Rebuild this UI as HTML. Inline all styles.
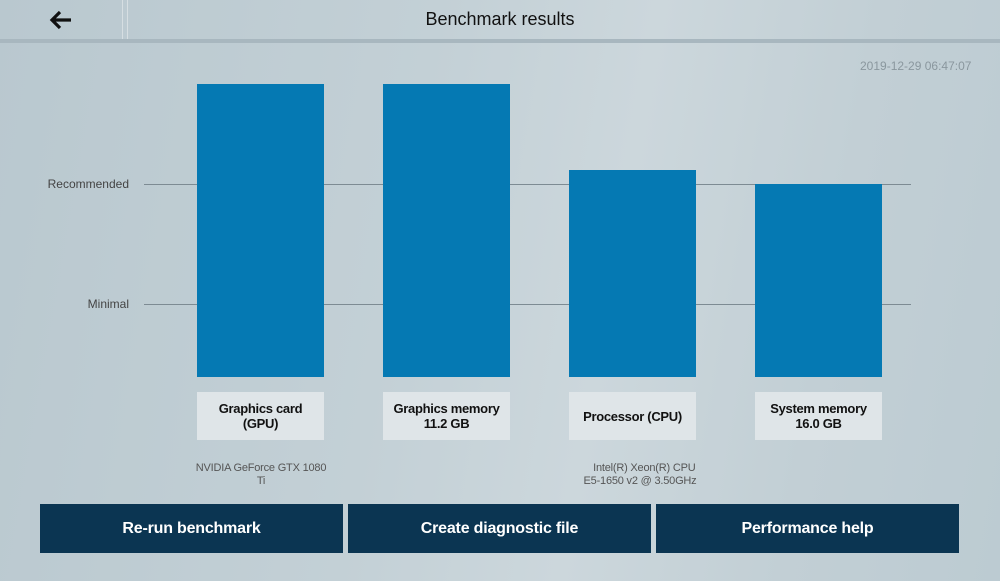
<!DOCTYPE html><html><head><style>
body{margin:0;width:1000px;height:581px;overflow:hidden;font-family:"Liberation Sans",sans-serif;background:linear-gradient(100deg,#b9c8cf 0%,#c3d0d6 40%,#ccd7dc 60%,#c2cfd5 80%,#bccbd2 100%);position:relative}
.a{position:absolute}
.bar{position:absolute;background:#0579b3;width:127px}
.line{position:absolute;left:144px;width:767px;height:1px;background:#7d8b93}
.lab{position:absolute;top:392px;width:127px;height:48px;background:#dfe5e8;display:flex;align-items:center;justify-content:center;text-align:center;font-size:13px;font-weight:bold;color:#111;line-height:15px;letter-spacing:-0.3px}
.btn{position:absolute;top:504px;height:49px;background:#0b3552;color:#fff;font-size:16px;font-weight:bold;display:flex;align-items:center;justify-content:center;letter-spacing:-0.2px}
.sm{position:absolute;font-size:11px;color:#555;text-align:center;line-height:13px;letter-spacing:-0.2px}
.yl{position:absolute;right:871px;font-size:12px;color:#444}
</style></head><body>
<div class="a" style="left:0;top:0;width:122px;height:39px;border-right:1px solid #d6dee2;"></div>
<div class="a" style="left:127px;top:0;width:873px;height:39px;border-left:1px solid #d6dee2;"></div>
<div class="a" style="left:0;top:39px;width:1000px;height:4px;background:#a8b7bf"></div>
<svg class="a" style="left:49px;top:10px" width="24" height="20" viewBox="0 0 24 20"><path d="M22 10H4M11 2L3 10l8 8" stroke="#111" stroke-width="3.2" fill="none"/></svg>
<div class="a" style="left:128px;width:744px;top:9px;text-align:center;font-size:18px;color:#111">Benchmark results</div>
<div class="a" style="left:860px;top:59px;font-size:12px;color:#8a979e">2019-12-29 06:47:07</div>
<div class="line" style="top:184px"></div>
<div class="line" style="top:304px"></div>
<div class="yl" style="top:177px">Recommended</div>
<div class="yl" style="top:297px">Minimal</div>
<div class="bar" style="left:197px;top:84px;height:293px"></div>
<div class="bar" style="left:383px;top:84px;height:293px"></div>
<div class="bar" style="left:569px;top:170px;height:207px"></div>
<div class="bar" style="left:755px;top:184px;height:193px"></div>
<div class="lab" style="left:197px">Graphics card<br>(GPU)</div>
<div class="lab" style="left:383px">Graphics memory<br>11.2 GB</div>
<div class="lab" style="left:569px">Processor (CPU)</div>
<div class="lab" style="left:755px">System memory<br>16.0 GB</div>
<div class="sm" style="left:180px;width:162px;top:462px">NVIDIA GeForce GTX 1080<br>Ti</div>
<div class="sm" style="left:560px;width:160px;top:462px">&nbsp;&nbsp;&nbsp;Intel(R) Xeon(R) CPU<br>E5-1650 v2 @ 3.50GHz</div>
<div class="btn" style="left:40px;width:303px">Re-run benchmark</div>
<div class="btn" style="left:348px;width:303px">Create diagnostic file</div>
<div class="btn" style="left:656px;width:303px">Performance help</div>
</body></html>
